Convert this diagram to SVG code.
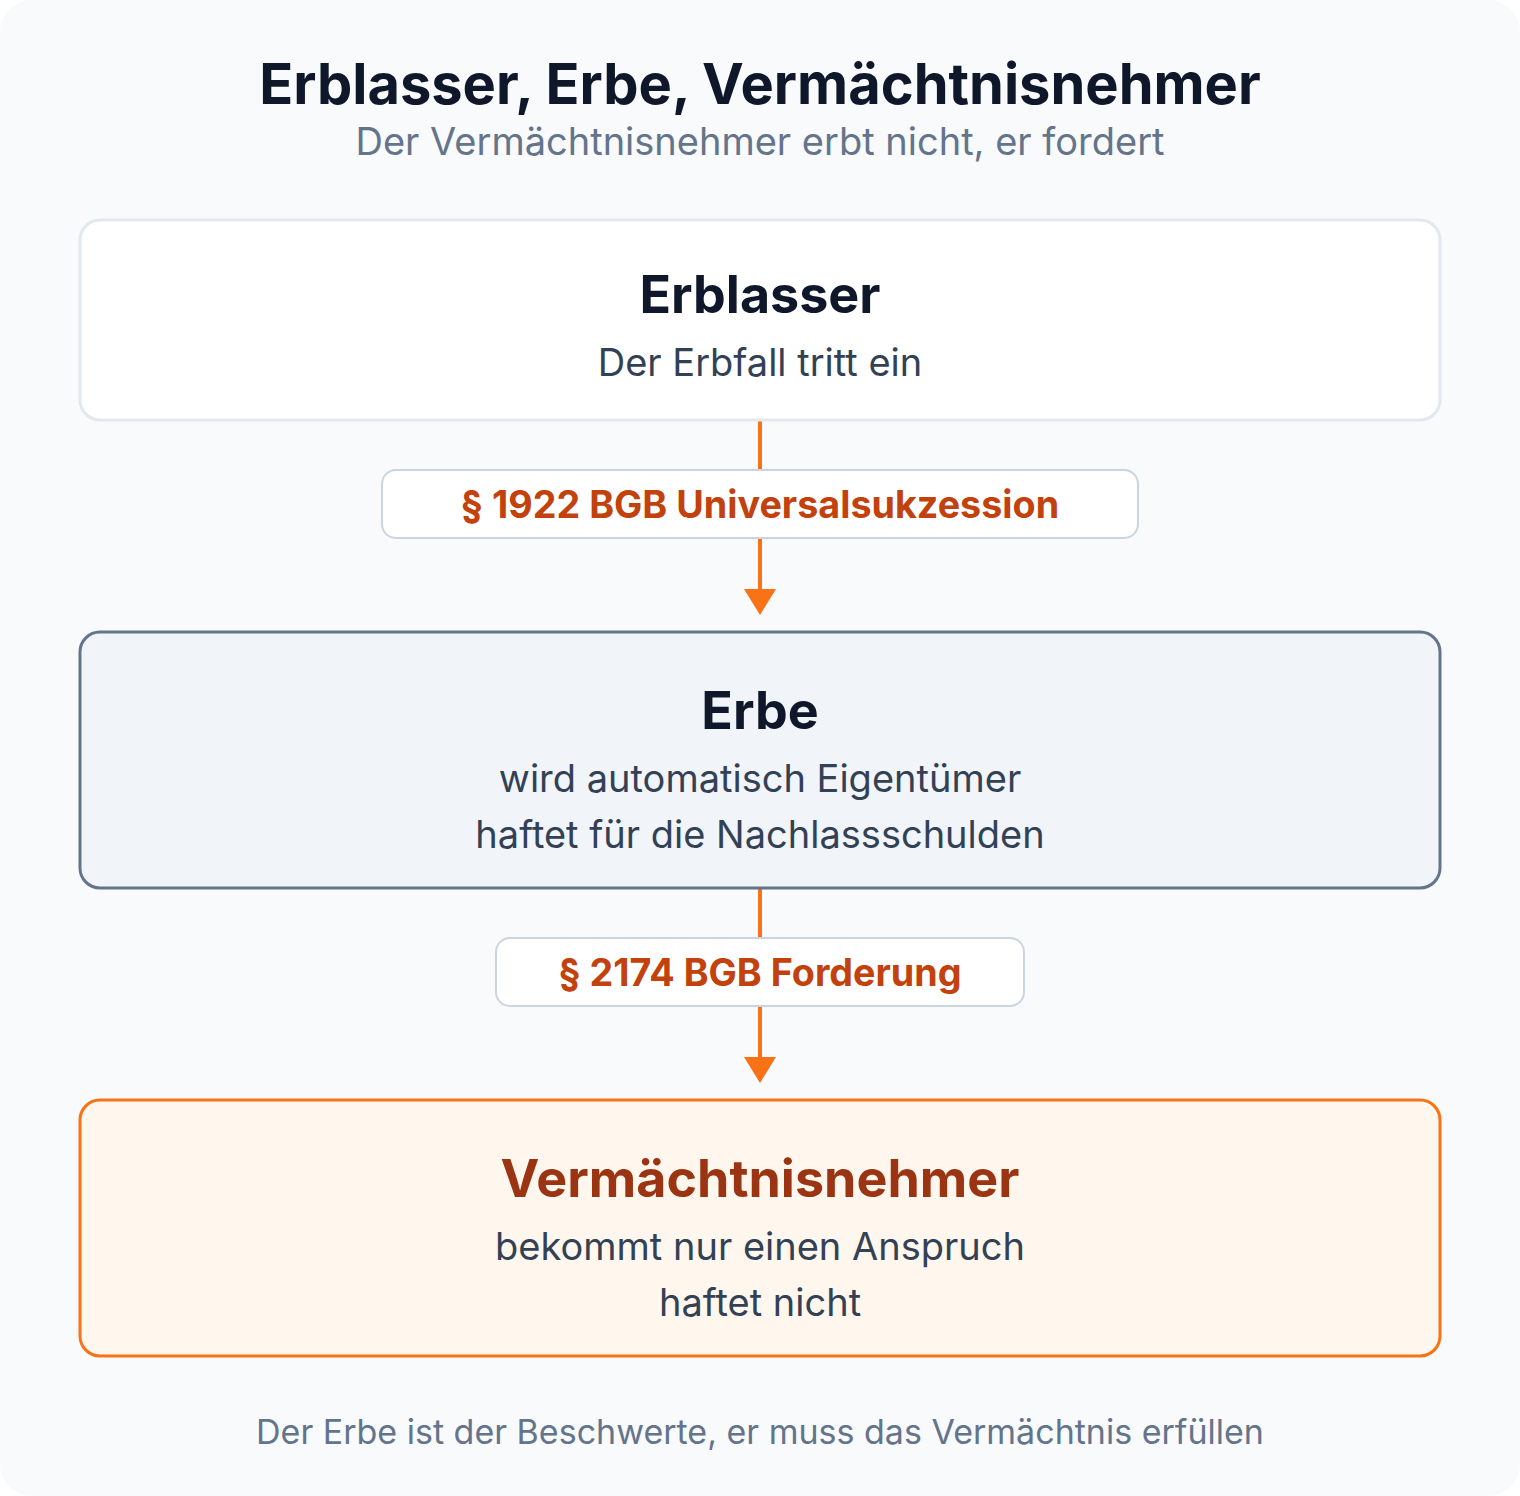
<svg xmlns="http://www.w3.org/2000/svg" width="1520" height="1496" viewBox="0 0 1520 1496">
<style>
text{font-family:Inter,"Noto Sans","Liberation Sans",sans-serif;text-anchor:middle}
.h{font-weight:700;fill:#0f172a}
.sub{fill:#64748b}
.body{fill:#334155;font-size:38px}
.lbl{font-weight:700;fill:#c2410c;font-size:37.7px}
.edge{stroke:#f97316;stroke-width:4;fill:none}
.head{fill:#f97316}
.lbox{fill:#ffffff;stroke:#cbd5e1;stroke-width:2}
</style>
<rect x="0" y="0" width="1520" height="1496" fill="#ffffff"/>
<rect x="0" y="0" width="1520" height="1496" rx="32" fill="#f8fafc"/>
<text class="h" x="760" y="104" font-size="56">Erblasser, Erbe, Vermächtnisnehmer</text>
<text class="sub" x="760" y="155" font-size="38">Der Vermächtnisnehmer erbt nicht, er fordert</text>
<g id="edges">
<line class="edge" x1="760" y1="420" x2="760" y2="592"/>
<polygon class="head" points="744,589 776,589 760,615"/>
<line class="edge" x1="760" y1="888" x2="760" y2="1060"/>
<polygon class="head" points="744,1057 776,1057 760,1083"/>
<g id="label1"><rect class="lbox" x="382" y="470" width="756" height="68" rx="14"/><text class="lbl" x="760" y="518">§ 1922 BGB Universalsukzession</text></g>
<g id="label2"><rect class="lbox" x="496" y="938" width="528" height="68" rx="14"/><text class="lbl" x="760" y="986">§ 2174 BGB Forderung</text></g>
</g>
<g id="erblasser">
<rect x="80" y="220" width="1360" height="200" rx="20" fill="#ffffff" stroke="#e2e8f0" stroke-width="3"/>
<text class="h" x="760" y="313" font-size="52">Erblasser</text>
<text class="body" x="760" y="376">Der Erbfall tritt ein</text>
</g>
<g id="erbe">
<rect x="80" y="632" width="1360" height="256" rx="20" fill="#f1f5f9" stroke="#64748b" stroke-width="3"/>
<text class="h" x="760" y="729" font-size="52">Erbe</text>
<text class="body" x="760" y="792">wird automatisch Eigentümer</text>
<text class="body" x="760" y="848">haftet für die Nachlassschulden</text>
</g>
<g id="vermaechtnisnehmer">
<rect x="80" y="1100" width="1360" height="256" rx="20" fill="#fff7ed" stroke="#f97316" stroke-width="3"/>
<text class="h" x="760" y="1197" font-size="52" style="fill:#9a3412">Vermächtnisnehmer</text>
<text class="body" x="760" y="1260">bekommt nur einen Anspruch</text>
<text class="body" x="760" y="1316">haftet nicht</text>
</g>
<text class="sub" x="760" y="1444" font-size="34">Der Erbe ist der Beschwerte, er muss das Vermächtnis erfüllen</text>
</svg>
